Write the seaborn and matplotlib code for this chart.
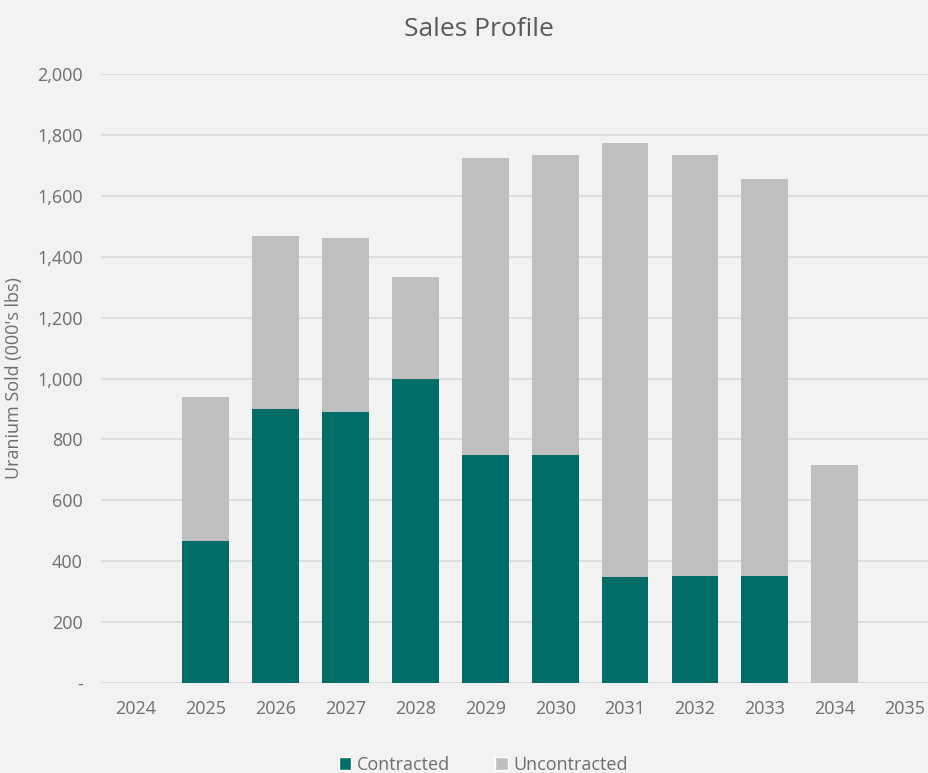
import numpy as np
import pandas as pd
import matplotlib
matplotlib.use("Agg")
import matplotlib.pyplot as plt
import seaborn as sns
from matplotlib.patches import Patch
from matplotlib.ticker import FuncFormatter

# Data (000's lbs)
years = ["2024", "2025", "2026", "2027", "2028", "2029",
         "2030", "2031", "2032", "2033", "2034", "2035"]
contracted = [0, 466, 900, 890, 998, 749, 750, 348, 350, 350, 0, 0]
uncontracted = [0, 473, 568, 571, 335, 975, 984, 1425, 1384, 1305, 716, 0]

BG = "#F2F2F2"
TEAL = "#006D68"
GREY = "#BFBFBF"
TEXT = "#6E6E6E"

sns.set_style("white")
plt.rcParams["font.family"] = ["Open Sans", "DejaVu Sans"]

df = pd.DataFrame({"year": years,
                   "contracted": contracted,
                   "uncontracted": uncontracted})
df["total"] = df["contracted"] + df["uncontracted"]

fig = plt.figure(figsize=(9.29, 7.73), dpi=100, facecolor=BG)
ax = fig.add_axes([101 / 929, 90 / 773, 828 / 929, 609 / 773])
ax.set_facecolor(BG)

# stacked bars: total (grey) underneath, contracted (teal) on top
sns.barplot(data=df, x="year", y="total", color=GREY, width=0.67,
            saturation=1, linewidth=0, ax=ax, zorder=2)
sns.barplot(data=df, x="year", y="contracted", color=TEAL, width=0.67,
            saturation=1, linewidth=0, ax=ax, zorder=3)

ax.set_xlim(-0.5, 11.35)
ax.set_ylim(0, 2000)
ax.set_yticks(np.arange(0, 2001, 200))
ax.yaxis.set_major_formatter(FuncFormatter(lambda v, p: "-" if v == 0 else f"{int(v):,}"))
ax.grid(axis="y", color="#D9D9D9", linewidth=1.2, zorder=0)
ax.set_axisbelow(True)
for s in ax.spines.values():
    s.set_visible(False)

ax.tick_params(axis="both", length=0, labelsize=13, labelcolor=TEXT)
ax.tick_params(axis="y", pad=13)
ax.tick_params(axis="x", pad=12)
ax.set_xlabel("")
ax.set_ylabel("Uranium Sold (000's lbs)", fontsize=13, color=TEXT, labelpad=10)

fig.text(0.516, 0.962, "Sales Profile", ha="center", va="center",
         fontsize=19, color="#595959")

handles = [Patch(facecolor=TEAL, label="Contracted"),
           Patch(facecolor=GREY, label="Uncontracted")]
fig.legend(handles=handles, loc="lower center", bbox_to_anchor=(0.52, -0.022),
           ncol=2, frameon=False, fontsize=13, labelcolor=TEXT,
           handlelength=0.7, handleheight=0.7, handletextpad=0.3,
           columnspacing=2.5)

fig.savefig("out.png", dpi=100, facecolor=BG)
